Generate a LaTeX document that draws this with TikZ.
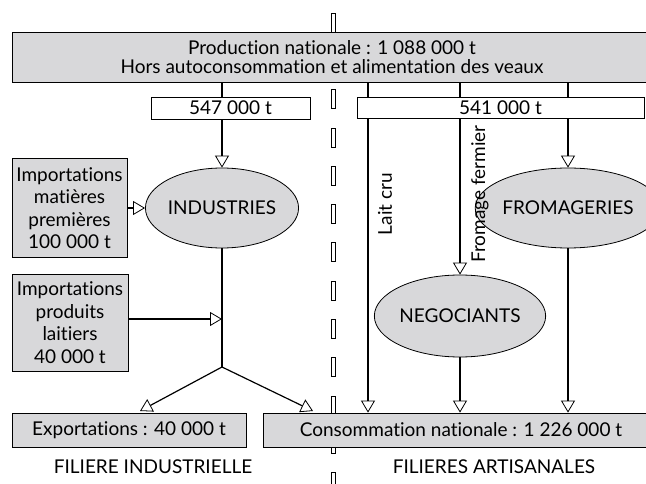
\documentclass[tikz,border=0pt]{standalone}
\usepackage{fontspec}
\setmainfont{Lato}[Ligatures=NoCommon]
\usetikzlibrary{arrows.meta,shapes.geometric}
\definecolor{boxgrey}{RGB}{216,216,218}
\tikzset{greybox/.style={draw,fill=boxgrey,line width=0.8pt,inner sep=0pt,align=center},
  whitebox/.style={draw,fill=white,line width=0.8pt,inner sep=0pt},
  oval/.style={ellipse,draw,fill=boxgrey,line width=0.8pt,inner sep=0pt,minimum width=141pt,minimum height=80pt},
  flow/.style={line width=1.2pt,-{Triangle[open,length=12pt,width=14pt,line width=0.8pt]}},
  gapbar/.style={draw,line width=0.6pt}}

\begin{document}
\begin{tikzpicture}[x=1pt,y=-1pt,font=\fontsize{19}{22.5}\selectfont]
      \useasboundingbox (0,0) rectangle (646,484);

      % separation between the two filieres
      \foreach \k in {0,...,12}
        \draw[gapbar] (331,{13+38.3*\k}) rectangle (335,{32+38.3*\k});

      \node[greybox,minimum width=640pt,minimum height=50pt,font=\fontsize{19}{18.5}\selectfont] (prod) at (332,57)
        {Production nationale : 1 088 000 t\\Hors autoconsommation et alimentation des veaux};

      \node[oval] (ind) at (222,208) {INDUSTRIES};
      \node[oval] (from) at (568,208) {FROMAGERIES};
      \node[oval,minimum height=82pt] (neg) at (460,316) {NEGOCIANTS};

      \node[greybox,minimum width=115pt,minimum height=99pt] (impmp) at (69.5,208)
        {Importations\\matières\\premières\\100 000 t};
      \node[greybox,minimum width=116pt,minimum height=97pt] (imppl) at (70,322.5)
        {Importations\\produits\\laitiers\\40 000 t};

      \node[greybox,minimum width=234pt,minimum height=34pt] (exp) at (129,430) {Exportations : 40 000 t};
      \node[greybox,minimum width=396pt,minimum height=34pt] (cons) at (461,430) {Consommation nationale : 1 226 000 t};

      \node (filind) at (153,467) {FILIERE INDUSTRIELLE};
      \node (filart) at (494,467) {FILIERES ARTISANALES};

      \coordinate (lait) at (368,0);
      \coordinate (pl) at (222,319);
      \coordinate (fork) at (222,367);
      \coordinate (extip) at (140,411);
      \coordinate (constip) at (313,411);

      \draw[flow] (prod.south -| ind.north) -- (ind.north);
      \draw[flow] (prod.south -| from.north) -- (from.north);
      \draw[flow] (prod.south -| neg.north) -- (neg.north);
      \draw[flow] (prod.south -| lait) -- (cons.north -| lait);

      \draw[flow] (impmp.east) -- (ind.west);
      \draw[flow] (imppl.east |- pl) -- (pl);

      \draw[line width=1.2pt] (ind.south) -- (fork);
      \draw[flow] (fork) -- (extip);
      \draw[flow] (fork) -- (constip);

      \draw[flow] (neg.south) -- (neg.south |- cons.north);
      \draw[flow] (from.south) -- (from.south |- cons.north);

      \node[rotate=90] (laitcru) at (385,204) {Lait cru};
      \node[rotate=90] (fermier) at (480,194) {Fromage fermier};

      \node[whitebox,minimum width=159pt,minimum height=22pt] (ind547) at (230.5,108) {547 000 t};
      \node[whitebox,minimum width=287pt,minimum height=21pt] (art541) at (500.5,107.5) {541 000 t};
    \end{tikzpicture}
\end{document}
